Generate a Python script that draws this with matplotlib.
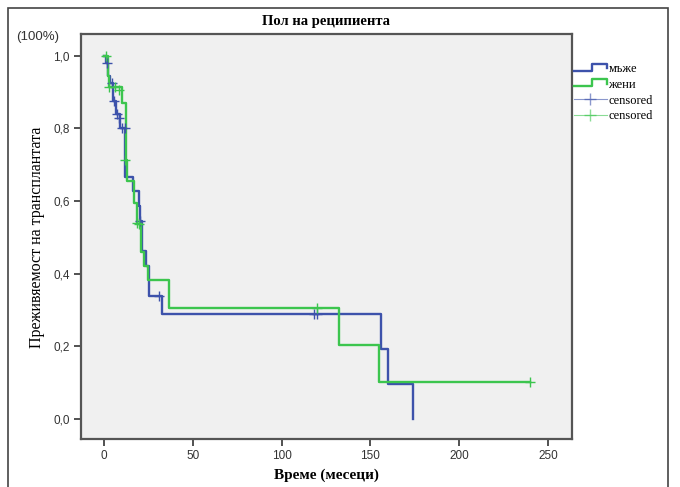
import matplotlib
matplotlib.use("Agg")
import matplotlib.pyplot as plt
from matplotlib.lines import Line2D
from matplotlib.legend_handler import HandlerBase
from matplotlib.patches import Rectangle

# ---- data ----
male_t = [0, 1, 2, 3.5, 5, 7, 9, 12, 16.5, 19.5, 20.5, 21.5, 23.5, 25.5, 32.5, 156, 160, 174]
male_s = [1.0, 0.98, 0.943, 0.925, 0.876, 0.84, 0.80, 0.665, 0.628, 0.587, 0.545, 0.463, 0.42, 0.339, 0.289, 0.193, 0.096, 0.0]
male_cens_t = [1.5, 4.3, 5.6, 7.5, 8.5, 10, 12, 20.3, 31, 118, 120]
male_cens_s = [0.98, 0.925, 0.876, 0.84, 0.83, 0.80, 0.80, 0.545, 0.339, 0.289, 0.289]

female_t = [0, 2, 3, 10, 12.5, 13, 16.9, 18.8, 21, 22.5, 24.8, 36.6, 132.3, 154.8, 240]
female_s = [1.0, 0.945, 0.913, 0.87, 0.713, 0.656, 0.596, 0.537, 0.46, 0.42, 0.383, 0.307, 0.204, 0.103, 0.103]
female_cens_t = [1, 3, 6, 8.5, 12, 18.5, 20, 120, 240]
female_cens_s = [1.0, 0.913, 0.913, 0.905, 0.713, 0.54, 0.537, 0.307, 0.103]

xticks = [0, 50, 100, 150, 200, 250]
xticklabels = ["0", "50", "100", "150", "200", "250"]
yticks = [0.0, 0.2, 0.4, 0.6, 0.8, 1.0]
yticklabels = ["0,0", "0,2", "0,4", "0,6", "0,8", "1,0"]

title = "Пол на реципиента"
xlabel = "Време (месеци)"
ylabel = "Преживяемост на трансплантата"
legend_labels = ["мъже", "жени", "censored", "censored"]

BLUE = "#3d52ab"
GREEN = "#3cc54e"

W, H = 680, 487
fig = plt.figure(figsize=(W / 100, H / 100), dpi=100)
fig.patch.set_facecolor("white")

# outer border
fig.add_artist(Rectangle((8 / W, -0.01), (668 - 8) / W, (H - 8) / H + 0.01,
                         transform=fig.transFigure, fill=False,
                         edgecolor="#444444", linewidth=1.2))

L, R, T, B = 80.7, 572, 34, 439
ax = fig.add_axes([L / W, 1 - B / H, (R - L) / W, (B - T) / H])
ax.set_facecolor("#f0f0f0")

ax.step(male_t, male_s, where="post", color=BLUE, lw=1.7, zorder=3)
ax.step(female_t, female_s, where="post", color=GREEN, lw=1.7, zorder=3)
ax.plot(male_cens_t, male_cens_s, ls="none", marker="+", ms=6.5, mew=1.0, color=BLUE, zorder=4)
ax.plot(female_cens_t, female_cens_s, ls="none", marker="+", ms=6.5, mew=1.0, color=GREEN, zorder=4)

ax.set_xlim(-13.1, 263.5)
ax.set_ylim(-0.055, 1.06)
ax.set_xticks(xticks)
ax.set_xticklabels(xticklabels, fontfamily="Liberation Sans", fontsize=8.5, color="#333333")
ax.set_yticks(yticks)
ax.set_yticklabels(yticklabels, fontfamily="Liberation Sans", fontsize=8.5, color="#333333")
ax.tick_params(direction="out", length=5, width=1.2, color="#333333", pad=3)
for s in ax.spines.values():
    s.set_color("#555555")
    s.set_linewidth(1.6)

fig.text(0.5 * (L + R) / W + 0.0, 1 - 22 / H, title, ha="center", va="center",
         fontfamily="Liberation Serif", fontweight="bold", fontsize=10.5)
fig.text(0.5 * (L + R) / W, 1 - 475 / H, xlabel, ha="center", va="center",
         fontfamily="Liberation Serif", fontweight="bold", fontsize=11)
fig.text(37 / W, 1 - 237 / H, ylabel, ha="center", va="center", rotation=90,
         fontfamily="Liberation Serif", fontsize=11.5)
fig.text(16 / W, 1 - 37 / H, "(100%)", ha="left", va="center",
         fontfamily="Liberation Sans", fontsize=9.5, color="#333333")


class StepHandler(HandlerBase):
    def create_artists(self, legend, orig_handle, xdescent, ydescent, width, height, fontsize, trans):
        x0, x1 = -xdescent, -xdescent + width
        y0, y1 = -ydescent + 0.15 * height, -ydescent + 0.95 * height
        xm = x0 + 0.55 * width
        ln = Line2D([x0, xm, xm, x1, x1], [y0, y0, y1, y1, y0 + 0.3 * height],
                    color=orig_handle.get_color(), lw=1.7, transform=trans)
        return [ln]


h1 = Line2D([], [], color=BLUE)
h2 = Line2D([], [], color=GREEN)
h3 = Line2D([], [], color=BLUE, lw=0.8, alpha=0.6, marker="+", ms=9, mew=1.0)
h4 = Line2D([], [], color=GREEN, lw=0.8, alpha=0.6, marker="+", ms=9, mew=1.0)
leg = fig.legend([h1, h2, h3, h4], legend_labels,
                 handler_map={h1: StepHandler(), h2: StepHandler()},
                 loc="upper left", bbox_to_anchor=(574 / W, 1 - 63 / H),
                 frameon=False, prop={"family": "Liberation Serif", "size": 9},
                 handlelength=2.6, handletextpad=0.15, labelspacing=0.3,
                 borderaxespad=0, borderpad=0)

fig.savefig("out.png", dpi=100)
